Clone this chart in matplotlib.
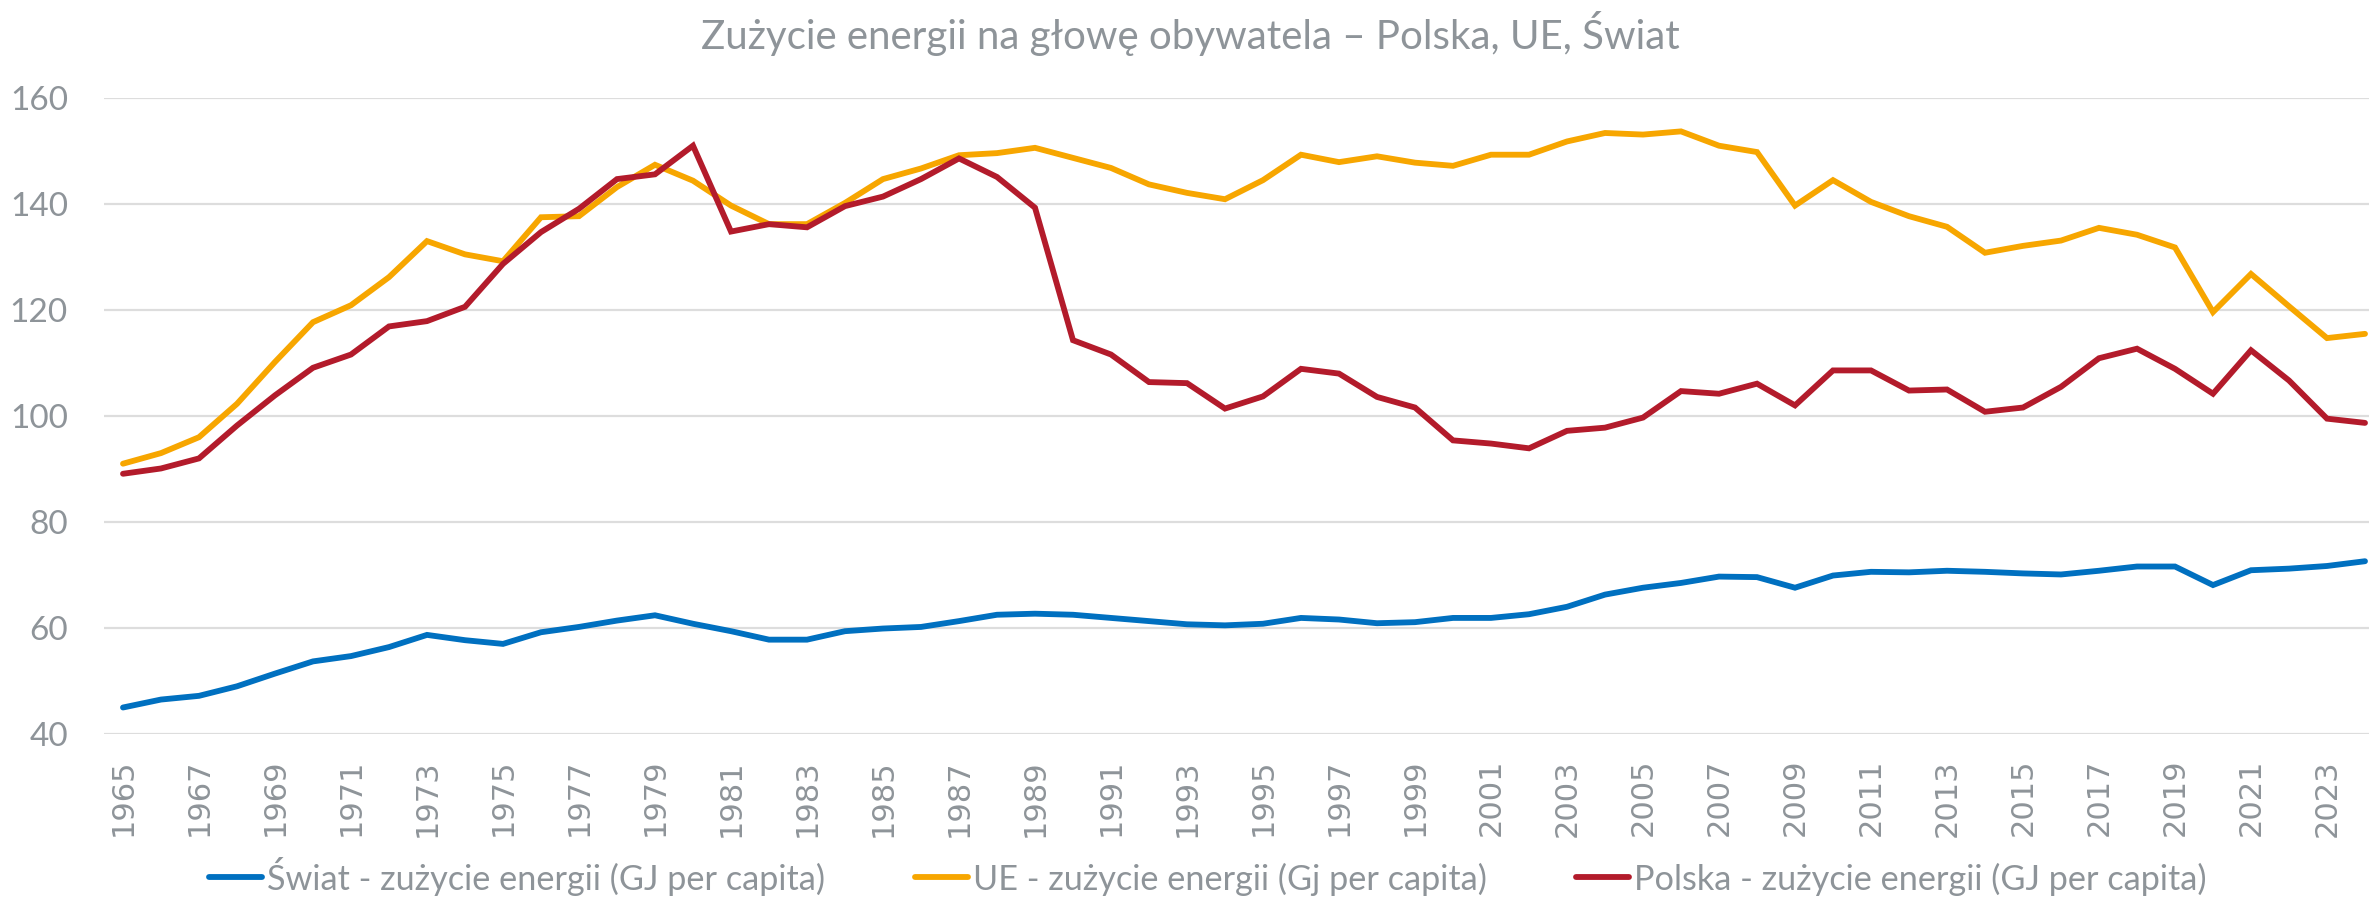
"""Zużycie energii na głowę obywatela – Polska, UE, Świat."""

import numpy as np
from matplotlib import pyplot as plt

years = list(range(1965, 2025))

swiat = [45.0, 46.5, 47.2, 49.0, 51.4, 53.7, 54.7, 56.4, 58.7, 57.7,
         57.0, 59.2, 60.2, 61.4, 62.4, 60.8, 59.4, 57.8, 57.8, 59.4,
         59.9, 60.2, 61.3, 62.5, 62.7, 62.5, 61.9, 61.3, 60.7, 60.5,
         60.8, 61.9, 61.6, 60.9, 61.1, 61.9, 61.9, 62.6, 64.0, 66.3,
         67.6, 68.5, 69.7, 69.6, 67.6, 69.9, 70.6, 70.5, 70.8, 70.6,
         70.3, 70.1, 70.8, 71.6, 71.6, 68.1, 70.9, 71.2, 71.7, 72.6]

ue = [91.0, 93.0, 96.0, 102.3, 110.2, 117.7, 120.9, 126.2, 133.0, 130.5,
      129.2, 137.5, 137.7, 143.2, 147.4, 144.4, 139.7, 136.2, 136.2, 140.2,
      144.7, 146.7, 149.2, 149.6, 150.6, 148.7, 146.8, 143.7, 142.1, 140.9,
      144.5, 149.3, 147.9, 149.0, 147.8, 147.2, 149.3, 149.3, 151.8, 153.4,
      153.1, 153.7, 151.0, 149.8, 139.7, 144.5, 140.4, 137.7, 135.7, 130.8,
      132.1, 133.1, 135.5, 134.2, 131.8, 119.6, 126.8, 120.7, 114.7, 115.5]

polska = [89.1, 90.1, 92.0, 98.2, 103.9, 109.1, 111.6, 116.9, 117.9, 120.6,
          128.7, 134.7, 139.1, 144.7, 145.6, 151.0, 134.8, 136.2, 135.6, 139.6,
          141.4, 144.7, 148.6, 145.1, 139.3, 114.3, 111.6, 106.4, 106.2, 101.4,
          103.7, 108.9, 108.0, 103.6, 101.6, 95.4, 94.8, 93.9, 97.2, 97.8,
          99.7, 104.7, 104.2, 106.1, 102.0, 108.6, 108.6, 104.8, 105.0, 100.8,
          101.6, 105.5, 110.9, 112.7, 108.9, 104.2, 112.4, 106.7, 99.5, 98.7]

labels = ['Świat - zużycie energii (GJ per capita)',
          'UE - zużycie energii (Gj per capita)',
          'Polska - zużycie energii (GJ per capita)']
colors = ['#0070C0', '#F7A600', '#B31B2B']

TEXT = '#8E9499'
FONT = ['Lato', 'DejaVu Sans']

fig = plt.figure(figsize=(23.69, 9.0), dpi=100)
ax = fig.add_axes([104 / 2369, 1 - 734 / 900, 2280 / 2369, 636 / 900])

for series, name, col in zip([swiat, ue, polska], labels, colors):
    ax.plot(years, series, color=col, lw=4.2, label=name,
            solid_joinstyle='miter', solid_capstyle='round')

ax.set_xlim(1964.5, 2024.5)
ax.set_ylim(40, 160)
ax.set_yticks(np.arange(40, 161, 20))
ax.set_xticks(years[::2])
ax.set_xticklabels([str(y) for y in years[::2]], rotation=90,
                   fontsize=22, color=TEXT, family='DejaVu Sans')
for t in ax.get_yticklabels():
    t.set_fontsize(24)
    t.set_color(TEXT)
    t.set_family(FONT)

ax.grid(axis='y', color='#DDDDDD', lw=1.6)
ax.set_axisbelow(True)
for s in ax.spines.values():
    s.set_visible(False)
ax.tick_params(axis='both', length=0)
ax.tick_params(axis='y', pad=26)
ax.tick_params(axis='x', pad=18)

fig.text(1190 / 2369, 1 - 33 / 900,
         'Zużycie energii na głowę obywatela – Polska, UE, Świat',
         ha='center', va='center', fontsize=29, color=TEXT, family=FONT)

fig.legend(loc='center', bbox_to_anchor=(1208 / 2369, 1 - 876 / 900),
           ncol=3, frameon=False, handlelength=1.55, handletextpad=0.15,
           columnspacing=2.6, prop={'family': FONT, 'size': 24.7},
           labelcolor=TEXT)

fig.savefig('out.png', dpi=100)
